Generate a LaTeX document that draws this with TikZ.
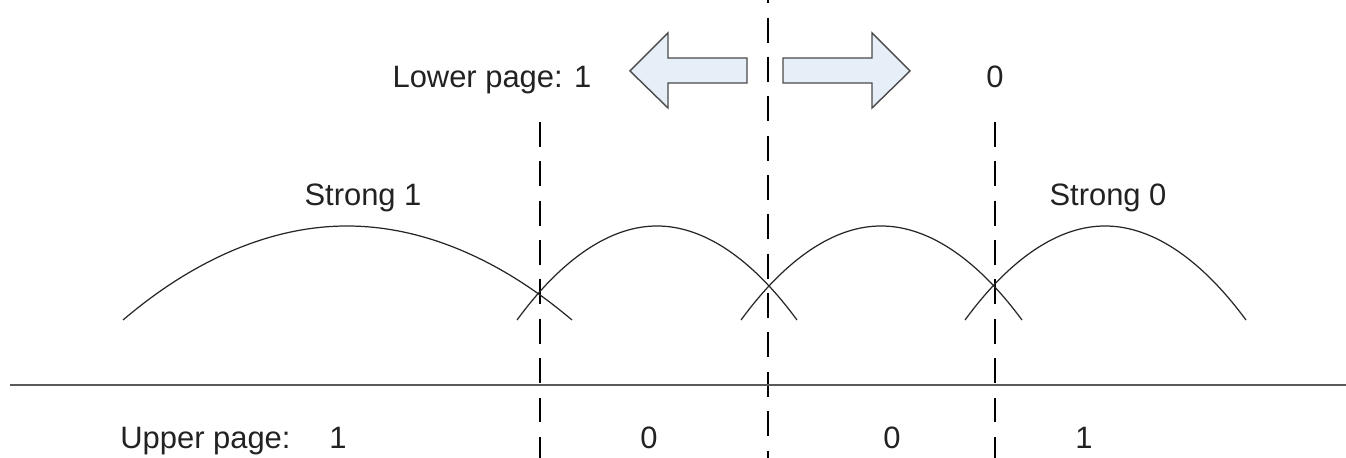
\documentclass[tikz,border=0pt]{standalone}
\usepackage{fontspec}
\setmainfont{Liberation Sans}
\usepackage{tikz}
\usetikzlibrary{calc,positioning}
\definecolor{okDolgu}{HTML}{E6EEF8}
\definecolor{okKenar}{HTML}{4A4A4A}
\definecolor{yaziGri}{HTML}{222222}
\definecolor{cizgiGri}{HTML}{5A5A5A}

\begin{document}
\begin{tikzpicture}[every node/.style={font=\fontsize{17.6}{21}\selectfont,text=yaziGri,inner sep=0pt},
  esik/.style={black,line width=1.4pt,dash pattern=on 14.2pt off 8.2pt},
  egri/.style={black!85,line width=0.7pt},
  blokOk/.style={draw=okKenar,fill=okDolgu,line width=0.8pt,line join=miter},
  etiket/.style={anchor=base}]
\useasboundingbox (0,0) rectangle (26.92,9.16);
% threshold lines
\coordinate (e1u) at (10.8,6.72);  \coordinate (e1a) at (10.8,0);
\coordinate (e2u) at (15.36,9.16); \coordinate (e2a) at (15.36,0);
\coordinate (e3u) at (19.9,6.72);  \coordinate (e3a) at (19.9,0);
\draw[esik] (e1u)--(e1a);
\draw[esik,dash phase=12.4pt] (e2u)--(e2a);
\draw[esik] (e3u)--(e3a);
% axis
\coordinate (xs) at (0.2,1.46); \coordinate (xe) at (26.92,1.46);
\draw[cizgiGri,line width=1.2pt] (xs)--(xe);
% distributions
\draw[egri] (2.46,2.76) parabola bend (6.94,4.64) (11.44,2.76);
\draw[egri] (10.34,2.76) parabola bend (13.14,4.64) (15.94,2.76);
\draw[egri] (14.82,2.76) parabola bend (17.62,4.64) (20.44,2.76);
\draw[egri] (19.3,2.76) parabola bend (22.1,4.64) (24.92,2.76);
% block arrows
\draw[blokOk] (12.6,7.74)--(13.36,8.5)--(13.36,8.0)--(14.94,8.0)--(14.94,7.5)--(13.36,7.5)--(13.36,7.0)--cycle;
\draw[blokOk] (18.2,7.74)--(17.44,8.5)--(17.44,8.0)--(15.66,8.0)--(15.66,7.5)--(17.44,7.5)--(17.44,7.0)--cycle;
% labels
\node[etiket] (alt) at (9.84,7.4) {Lower page: 1};
\node[etiket] (alt0) at (19.9,7.4) {0};
\node[etiket] (guclu1) at (7.26,5.04) {Strong 1};
\node[etiket] (guclu0) at (22.16,5.04) {Strong 0};
\node[anchor=base west] (ust) at (2.4,0.18) {Upper page:};
\node[etiket] (u1) at (6.76,0.18) {1};
\node[etiket] (u2) at (12.98,0.18) {0};
\node[etiket] (u3) at (17.84,0.18) {0};
\node[etiket] (u4) at (21.68,0.18) {1};
\end{tikzpicture}
\end{document}
